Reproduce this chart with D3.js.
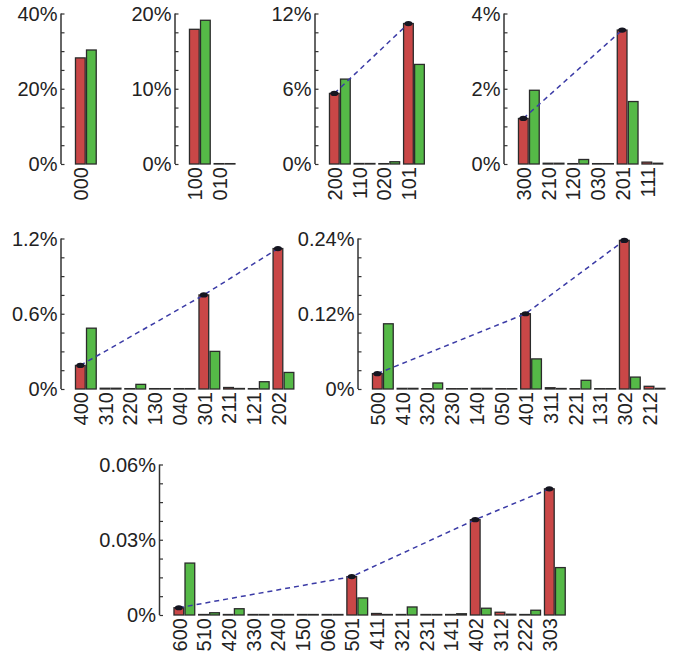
<!DOCTYPE html>
<html>
<head>
<meta charset="utf-8">
<script src="https://cdn.jsdelivr.net/npm/d3@7"></script>
<style>
  body { margin: 0; background: #fff; }
  text { font-family: "Liberation Sans", Arial, sans-serif; fill: #222; }
</style>
</head>
<body>
<div id="bd"></div>
<script>
// values in percent
var cats1 = ["000"],
    red1 = [28.2],
    green1 = [30.3];
var cats2 = ["100", "010"],
    red2 = [17.9, 0.05],
    green2 = [19.1, 0.05];
var cats3 = ["200", "110", "020", "101"],
    red3 = [5.63, 0.04, 0.03, 11.2],
    green3 = [6.77, 0.04, 0.18, 7.94];
var cats4 = ["300", "210", "120", "030", "201", "111"],
    red4 = [1.21, 0.02, 0.01, 0.01, 3.56, 0.05],
    green4 = [1.96, 0.02, 0.12, 0.01, 1.66, 0.02];
var cats5 = ["400", "310", "220", "130", "040", "301", "211", "121", "202"],
    red5 = [0.188, 0.006, 0.003, 0.003, 0.003, 0.75, 0.012, 0.003, 1.12],
    green5 = [0.485, 0.006, 0.037, 0.003, 0.003, 0.30, 0.004, 0.058, 0.132];
var cats6 = ["500", "410", "320", "230", "140", "050", "401", "311", "221", "131", "302", "212"],
    red6 = [0.0245, 0.001, 0.0005, 0.0005, 0.001, 0.0005, 0.12, 0.002, 0.0005, 0.0005, 0.237, 0.0043],
    green6 = [0.104, 0.001, 0.0096, 0.0005, 0.001, 0.0005, 0.048, 0.0008, 0.0139, 0.0005, 0.019, 0.001];
var cats7 = ["600", "510", "420", "330", "240", "150", "060", "501", "411", "321", "231", "141", "402", "312", "222", "303"],
    red7 = [0.0029, 0.0002, 0.0002, 0.0002, 0.0002, 0.0002, 0.0002, 0.0153, 0.0006, 0.0002, 0.0002, 0.0002, 0.038, 0.0011, 0.0002, 0.0503],
    green7 = [0.0207, 0.0009, 0.0025, 0.0002, 0.0002, 0.0002, 0.0002, 0.0068, 0.0002, 0.0032, 0.0002, 0.0005, 0.0027, 0.0003, 0.0019, 0.0189];

var maxes = [40, 20, 12, 4, 1.2, 0.24, 0.06];
var tickLabels = [
    ["0%", "20%", "40%"],
    ["0%", "10%", "20%"],
    ["0%", "6%", "12%"],
    ["0%", "2%", "4%"],
    ["0%", "0.6%", "1.2%"],
    ["0%", "0.12%", "0.24%"],
    ["0%", "0.03%", "0.06%"]
];
// red-bar categories joined by the dashed line
var lineCats = [[], [], ["200", "101"], ["300", "201"], ["400", "301", "202"],
    ["500", "401", "302"], ["600", "501", "402", "303"]];

var allCats = [cats1, cats2, cats3, cats4, cats5, cats6, cats7];
var allRed = [red1, red2, red3, red4, red5, red6, red7];
var allGreen = [green1, green2, green3, green4, green5, green6, green7];

// panel placement
var layout = [
    {ax: 61, base: 164}, {ax: 175, base: 164}, {ax: 315, base: 164}, {ax: 504, base: 164},
    {ax: 61, base: 389}, {ax: 358, base: 389},
    {ax: 159.5, base: 615}
];
var panelH = 150.5, step = 24.7, first = 14.5;

var svg = d3.select("#bd").append("svg")
    .attr("width", 685)
    .attr("height", 660);

for (var p = 0; p < 7; p++) {
    var cats = allCats[p], L = layout[p];
    var rows = cats.map(function (c, i) {
        return {cat: c, red: allRed[p][i], green: allGreen[p][i]};
    });

    var y = d3.scaleLinear().domain([0, maxes[p]]).range([L.base, L.base - panelH]);
    var x0 = L.ax + first - 2;
    var x = d3.scaleBand().domain(cats)
        .range([x0, x0 + cats.length * step])
        .paddingInner(0.16).paddingOuter(0.08);
    var xs = d3.scaleBand().domain(["red", "green"])
        .range([0, x.bandwidth()]).paddingInner(0.12);

    var g = svg.append("g");

    // bars
    var grp = g.selectAll("g.cat").data(rows).enter().append("g")
        .attr("class", "cat")
        .attr("transform", function (d) { return "translate(" + x(d.cat) + ",0)"; });
    grp.append("rect")
        .attr("x", xs("red"))
        .attr("width", xs.bandwidth())
        .attr("y", function (d) { return y(d.red); })
        .attr("height", function (d) { return L.base - y(d.red); })
        .attr("fill", "#c94747")
        .attr("stroke", "#2b2b2b")
        .attr("stroke-width", 1.3);
    grp.append("rect")
        .attr("x", xs("green"))
        .attr("width", xs.bandwidth())
        .attr("y", function (d) { return y(d.green); })
        .attr("height", function (d) { return L.base - y(d.green); })
        .attr("fill", "#55b947")
        .attr("stroke", "#2b2b2b")
        .attr("stroke-width", 1.3);

    // y axis
    var yAxis = d3.axisRight(y)
        .tickValues(d3.range(9).map(function (i) { return maxes[p] * i / 8; }))
        .tickSize(3.5)
        .tickFormat("");
    var ag = g.append("g")
        .attr("transform", "translate(" + L.ax + ",0)")
        .call(yAxis);
    ag.select(".domain").attr("d", "M0," + L.base + "V" + (L.base - panelH))
        .attr("stroke", "#333").attr("stroke-width", 1.5);
    ag.selectAll(".tick line").attr("stroke", "#333").attr("stroke-width", 1.2);

    var labs = tickLabels[p];
    g.selectAll("text.ylab").data(labs).enter().append("text")
        .attr("class", "ylab")
        .attr("x", L.ax - 3.5)
        .attr("y", function (d, i) { return y(maxes[p] * i / 2); })
        .attr("dy", "0.36em")
        .attr("text-anchor", "end")
        .style("font-size", "20px")
        .text(function (d) { return d; });

    // category labels
    g.selectAll("text.xlab").data(cats).enter().append("text")
        .attr("class", "xlab")
        .attr("transform", function (d) {
            return "translate(" + (x(d) + xs("red") + xs.bandwidth() / 2 + 0.5) + "," + (L.base + 3) + ") rotate(-90)";
        })
        .attr("dy", "0.36em")
        .attr("text-anchor", "end")
        .style("font-size", "20px")
        .text(function (d) { return d; });

    // dashed line over the red bars
    if (lineCats[p].length > 1) {
        var pts = lineCats[p].map(function (c) {
            var r = rows[cats.indexOf(c)];
            return [x(c) + xs("red") + xs.bandwidth() / 2, y(r.red)];
        });
        g.append("path")
            .attr("d", d3.line()(pts))
            .attr("fill", "none")
            .attr("stroke", "#3b3ba6")
            .attr("stroke-width", 1.5)
            .attr("stroke-dasharray", "5,4");
        g.selectAll("ellipse").data(pts).enter().append("ellipse")
            .attr("cx", function (d) { return d[0]; })
            .attr("cy", function (d) { return d[1]; })
            .attr("rx", 4)
            .attr("ry", 2.6)
            .attr("fill", "#151520");
    }
}
</script>
</body>
</html>
